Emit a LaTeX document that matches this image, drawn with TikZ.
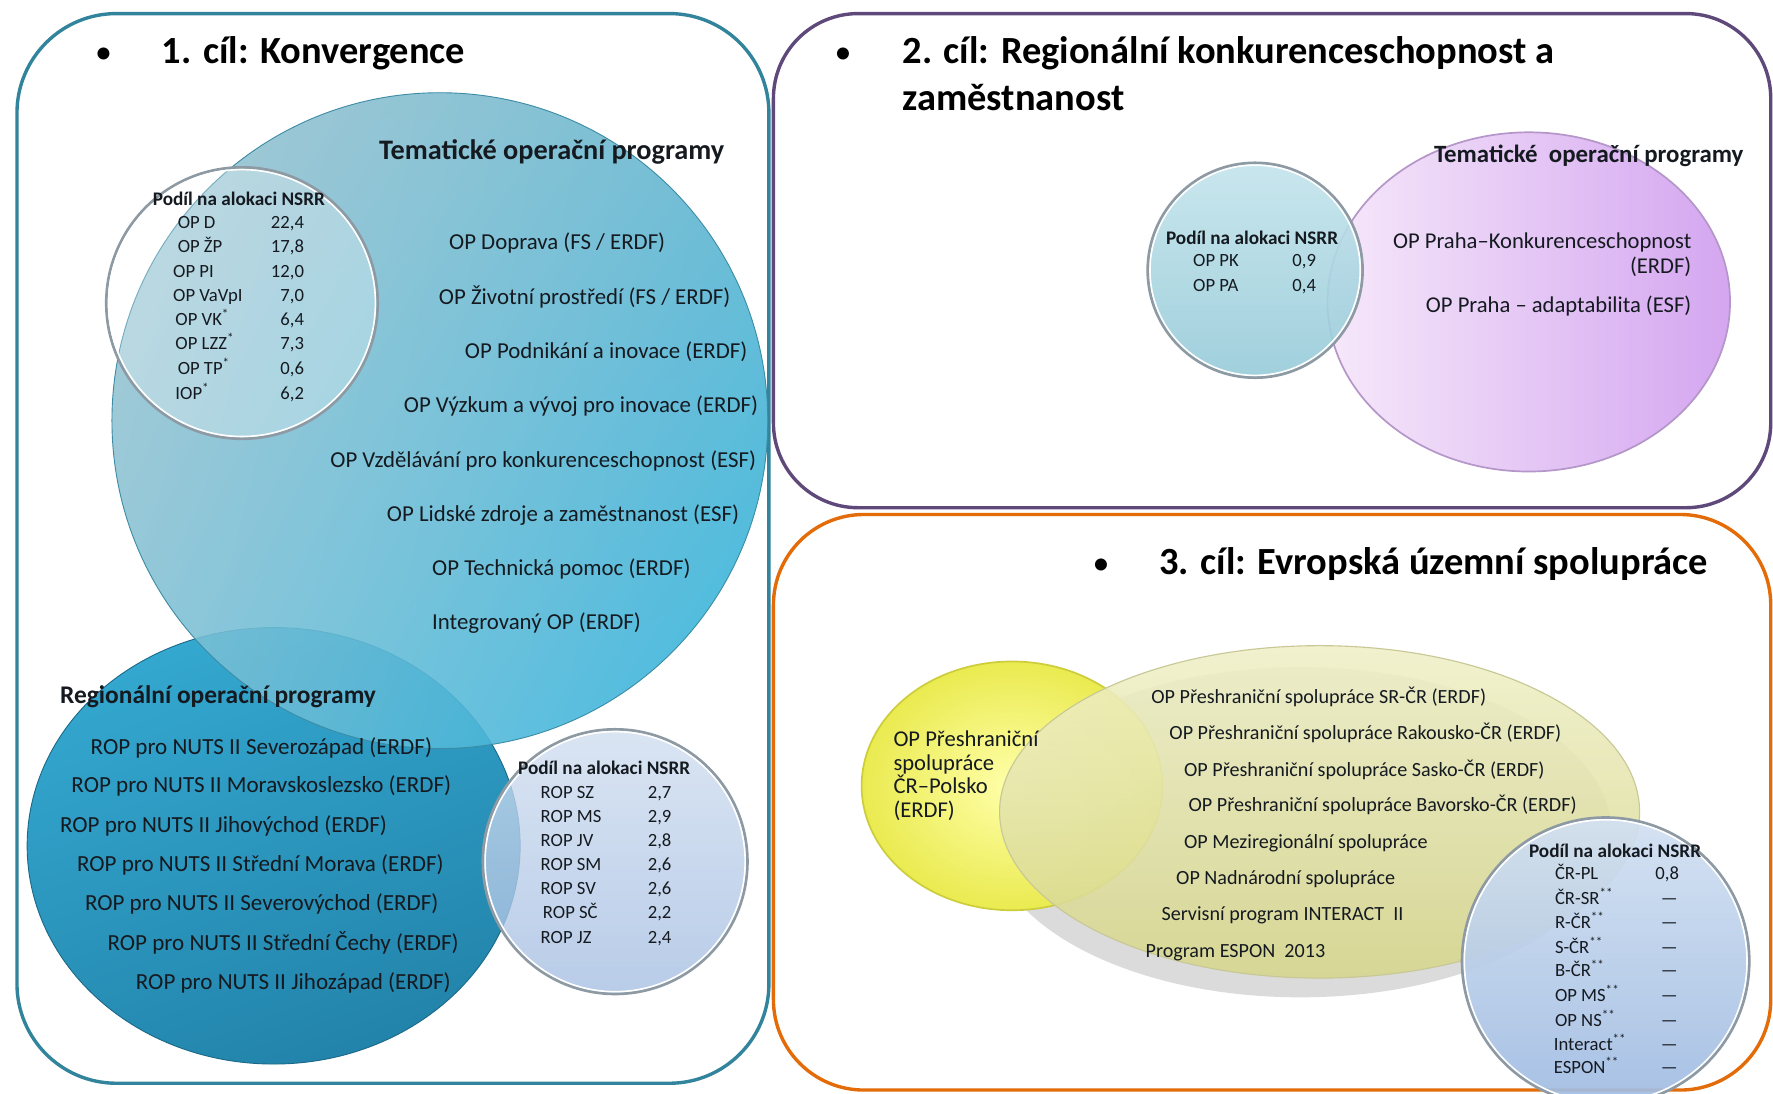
\documentclass[tikz,border=0pt]{standalone}
\usepackage{fontspec}
\setmainfont{Carlito}
\usetikzlibrary{shadings}
\newcommand\fsz[1]{\fontsize{#1}{#1}\selectfont}
\definecolor{tealb}{HTML}{31849B}
\definecolor{purpb}{HTML}{5F497A}
\definecolor{orangeb}{HTML}{E36C09}
\definecolor{txt}{HTML}{151A20}
\definecolor{rega}{HTML}{34A8D0}
\definecolor{regb}{HTML}{2283AA}
\definecolor{rimg}{HTML}{8E9AA3}
\definecolor{bigul}{RGB}{160,196,208}
\definecolor{bigur}{RGB}{96,180,206}
\definecolor{bigll}{RGB}{128,192,212}
\definecolor{biglr}{RGB}{40,178,222}
\definecolor{bigedge}{RGB}{60,140,165}
\definecolor{gl2a}{RGB}{208,222,240}
\definecolor{gl2b}{RGB}{165,190,226}
\definecolor{pura}{RGB}{246,232,250}
\definecolor{purb}{RGB}{212,166,240}
\definecolor{puredge}{RGB}{180,150,200}
\definecolor{tra}{RGB}{196,228,236}
\definecolor{trb}{RGB}{150,203,217}
\definecolor{yela}{RGB}{255,255,170}
\definecolor{yelb}{RGB}{234,234,80}
\definecolor{yeledge}{RGB}{205,205,60}
\definecolor{ola}{RGB}{240,240,200}
\definecolor{olb}{RGB}{214,214,140}
\definecolor{oledge}{RGB}{200,200,150}
\definecolor{bra}{RGB}{210,224,242}
\definecolor{brb}{RGB}{160,188,226}
\begin{document}
\begin{tikzpicture}[x=1pt,y=-1pt,
  lbl/.style={inner sep=0pt, text=txt, anchor=base west},
  ttl/.style={lbl, font=\fsz{34}\bfseries, text=black},
  bul/.style={lbl, font=\fsz{30}, text=black},
  hd/.style={lbl, font=\fsz{17}\bfseries},
  cell/.style={lbl, font=\fsz{16.5}},
  val/.style={cell, anchor=base east},
  item/.style={lbl, font=\fsz{20.2}},
  rop/.style={lbl, font=\fsz{20.4}},
  etc/.style={lbl, font=\fsz{17.8}},
  sub/.style={lbl, font=\fsz{25}\bfseries},
  panel/.style={line width=3pt},
  rimline/.style={draw=rimg, line width=2.4pt},
  rimin/.style={draw=white, line width=1.4pt}
]
\useasboundingbox (0,0) rectangle (1568,967);
\clip (0,0) rectangle (1568,967);
\fill[white] (0,0) rectangle (1568,967);

% ---------- panels ----------
\draw[panel, draw=tealb, rounded corners=88pt] (15,12) rectangle (680,958);
\draw[panel, draw=purpb, rounded corners=75pt] (684,12) rectangle (1566,449);
\draw[panel, draw=orangeb, rounded corners=80pt] (684,455) rectangle (1566,964);

% ---------- left panel shapes ----------
\shade[top color=rega, bottom color=regb, shading angle=20]
  (242,748) ellipse [x radius=218pt, y radius=193pt];
\draw[draw=regb!80!black, line width=0.8pt] (242,748) ellipse [x radius=218pt, y radius=193pt];
\shade[upper left=bigul, upper right=bigur, lower left=bigll, lower right=biglr, opacity=0.88]
  (389,372) circle [radius=290pt];
\draw[draw=bigedge, line width=0.8pt] (389,372) circle [radius=290pt];
% glass circle 1
\fill[white, opacity=0.28] (214,268) circle [radius=120pt];
\draw[rimline] (214,268) circle [radius=120pt];
\draw[rimin] (214,268) circle [radius=118pt];
% glass circle 2
\shade[top color=gl2a, bottom color=gl2b, opacity=0.78]
  (544,762) circle [radius=117pt];
\draw[rimline] (544,762) circle [radius=117pt];
\draw[rimin] (544,762) circle [radius=115pt];

% ---------- top right shapes ----------
\shade[left color=pura, right color=purb]
  (1352,267) ellipse [x radius=178pt, y radius=150pt];
\draw[draw=puredge, line width=1.5pt] (1352,267) ellipse [x radius=178pt, y radius=150pt];
\shade[top color=tra, bottom color=trb, opacity=0.9]
  (1110,239) circle [radius=95pt];
\draw[rimline] (1110,239) circle [radius=95pt];
\draw[rimin] (1110,239) circle [radius=93pt];

% ---------- bottom right shapes ----------
\fill[gray!55, opacity=0.5] (1150,736) ellipse [x radius=275pt, y radius=146pt];
\shade[inner color=yela, outer color=yelb]
  (895,695) ellipse [x radius=133pt, y radius=110pt];
\draw[draw=yeledge, line width=1.5pt] (895,695) ellipse [x radius=133pt, y radius=110pt];
\shade[top color=ola, bottom color=olb, opacity=0.88]
  (1167,718) ellipse [x radius=283pt, y radius=147pt];
\draw[draw=oledge, line width=1pt] (1167,718) ellipse [x radius=283pt, y radius=147pt];
\shade[top color=bra, bottom color=brb, opacity=0.92]
  (1420,850) circle [radius=127pt];
\draw[rimline] (1420,850) circle [radius=127pt];
\draw[rimin] (1420,850) circle [radius=125pt];

% ---------- titles ----------
\node[bul] (b1) at (84,56) {•};
\node[ttl] (t1) at (143,56) {1. cíl: Konvergence};
\node[bul] (b2) at (738,56) {•};
\node[ttl] (t2) at (798,56) {2. cíl: Regionální konkurenceschopnost a};
\node[ttl] (t2b) at (798,98) {zaměstnanost};
\node[bul] (b3) at (966,508) {•};
\node[ttl] (t3) at (1025,508) {3. cíl: Evropská územní spolupráce};

% ---------- left panel texts ----------
\node[sub] (tem1) at (335,141) {Tematické operační programy};
\node[item] (i1) at (397,221) {OP Doprava (FS / ERDF)};
\node[item] (i2) at (388,269) {OP Životní prostředí (FS / ERDF)};
\node[item] (i3) at (411,317) {OP Podnikání a inovace (ERDF)};
\node[item] (i4) at (357,365) {OP Výzkum a vývoj pro inovace (ERDF)};
\node[item] (i5) at (292,413) {OP Vzdělávání pro konkurenceschopnost (ESF)};
\node[item] (i6) at (342,461) {OP Lidské zdroje a zaměstnanost (ESF)};
\node[item] (i7) at (382,509) {OP Technická pomoc (ERDF)};
\node[item] (i8) at (382,557) {Integrovaný OP (ERDF)};

\node[hd] (h1) at (135,182) {Podíl na alokaci NSRR};
\node[cell] (a1) at (157,202) {OP D};        \node[val] (v1) at (269,202) {22,4};
\node[cell] (a2) at (157,223) {OP ŽP};       \node[val] (v2) at (269,223) {17,8};
\node[cell] (a3) at (153,245) {OP PI};       \node[val] (v3) at (269,245) {12,0};
\node[cell] (a4) at (153,267) {OP VaVpI};    \node[val] (v4) at (269,267) {7,0};
\node[cell] (a5) at (155,288) {OP VK\textsuperscript{*}};   \node[val] (v5) at (269,288) {6,4};
\node[cell] (a6) at (155,309) {OP LZZ\textsuperscript{*}};  \node[val] (v6) at (269,309) {7,3};
\node[cell] (a7) at (157,331) {OP TP\textsuperscript{*}};   \node[val] (v7) at (269,331) {0,6};
\node[cell] (a8) at (155,353) {IOP\textsuperscript{*}};     \node[val] (v8) at (269,353) {6,2};

\node[sub, font=\fsz{22.5}\bfseries] (reg) at (53,622) {Regionální operační programy};
\node[rop] (r1) at (80,667) {ROP pro NUTS II Severozápad (ERDF)};
\node[rop] (r2) at (63,701) {ROP pro NUTS II Moravskoslezsko (ERDF)};
\node[rop] (r3) at (53,736) {ROP pro NUTS II Jihovýchod (ERDF)};
\node[rop] (r4) at (68,771) {ROP pro NUTS II Střední Morava (ERDF)};
\node[rop] (r5) at (75,805) {ROP pro NUTS II Severovýchod (ERDF)};
\node[rop] (r6) at (95,841) {ROP pro NUTS II Střední Čechy (ERDF)};
\node[rop] (r7) at (120,875) {ROP pro NUTS II Jihozápad (ERDF)};

\node[hd] (h2) at (458,685) {Podíl na alokaci NSRR};
\node[cell] (c1) at (478,706) {ROP SZ}; \node[val] (w1) at (594,706) {2,7};
\node[cell] (c2) at (478,727) {ROP MS}; \node[val] (w2) at (594,727) {2,9};
\node[cell] (c3) at (478,749) {ROP JV}; \node[val] (w3) at (594,749) {2,8};
\node[cell] (c4) at (478,770) {ROP SM}; \node[val] (w4) at (594,770) {2,6};
\node[cell] (c5) at (478,791) {ROP SV}; \node[val] (w5) at (594,791) {2,6};
\node[cell] (c6) at (480,812) {ROP SČ}; \node[val] (w6) at (594,812) {2,2};
\node[cell] (c7) at (478,834) {ROP JZ}; \node[val] (w7) at (594,834) {2,4};

% ---------- top right texts ----------
\node[sub, font=\fsz{22}\bfseries] (tem2) at (1268,144) {Tematické\ \ operační programy};
\node[hd] (h3) at (1031,216) {Podíl na alokaci NSRR};
\node[cell] (p1) at (1055,236) {OP PK}; \node[val] (q1) at (1164,236) {0,9};
\node[cell] (p2) at (1055,258) {OP PA}; \node[val] (q2) at (1164,258) {0,4};
\node[lbl, font=\fsz{20}, anchor=north east, align=right] (pk) at (1496,206)
  {OP Praha–Konkurenceschopnost\\[2pt](ERDF)};
\node[lbl, font=\fsz{20}, anchor=base east] (pa) at (1496,276) {OP Praha – adaptabilita (ESF)};

% ---------- bottom right texts ----------
\node[lbl, font=\fsz{20}, anchor=north west, align=left] (pl) at (790,646)
  {OP Přeshraniční\\[1pt]spolupráce\\[1pt]ČR–Polsko\\[1pt](ERDF)};
\node[etc] (e1) at (1018,622) {OP Přeshraniční spolupráce SR-ČR (ERDF)};
\node[etc] (e2) at (1034,654) {OP Přeshraniční spolupráce Rakousko-ČR (ERDF)};
\node[etc] (e3) at (1047,687) {OP Přeshraniční spolupráce Sasko-ČR (ERDF)};
\node[etc] (e4) at (1051,718) {OP Přeshraniční spolupráce Bavorsko-ČR (ERDF)};
\node[etc] (e5) at (1047,750) {OP Meziregionální spolupráce};
\node[etc] (e6) at (1040,782) {OP Nadnárodní spolupráce};
\node[etc] (e7) at (1027,814) {Servisní program INTERACT\ \ II};
\node[etc] (e8) at (1013,847) {Program ESPON\ \ 2013};

\node[hd] (h4) at (1352,758) {Podíl na alokaci NSRR};
\node[cell] (d1) at (1375,778) {ČR-PL}; \node[val] (u1) at (1485,778) {0,8};
\node[cell] (d2) at (1375,800) {ČR-SR\textsuperscript{**}}; \node[val] (u2) at (1484,800) {---};
\node[cell] (d3) at (1375,821) {R-ČR\textsuperscript{**}}; \node[val] (u3) at (1484,821) {---};
\node[cell] (d4) at (1375,843) {S-ČR\textsuperscript{**}}; \node[val] (u4) at (1484,843) {---};
\node[cell] (d5) at (1375,864) {B-ČR\textsuperscript{**}}; \node[val] (u5) at (1484,864) {---};
\node[cell] (d6) at (1375,886) {OP MS\textsuperscript{**}}; \node[val] (u6) at (1484,886) {---};
\node[cell] (d7) at (1375,908) {OP NS\textsuperscript{**}}; \node[val] (u7) at (1484,908) {---};
\node[cell] (d8) at (1374,929) {Interact\textsuperscript{**}}; \node[val] (u8) at (1484,929) {---};
\node[cell] (d9) at (1374,949) {ESPON\textsuperscript{**}}; \node[val] (u9) at (1484,949) {---};
\end{tikzpicture}
\end{document}
